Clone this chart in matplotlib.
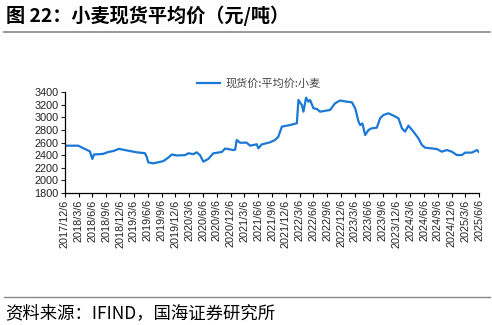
"""Wheat spot average price chart (figure 22), saved as out.png."""

import matplotlib.pyplot as plt
import numpy as np
from matplotlib.lines import Line2D

plt.rcParams["font.family"] = ["Noto Sans CJK SC", "DejaVu Sans"]

# Values (yuan/ton).
dates = [
    "2017-12-06", "2018-03-04", "2018-04-06", "2018-05-20", "2018-06-05",
    "2018-06-16", "2018-08-16", "2018-09-18", "2018-10-22", "2018-11-28",
    "2019-01-18", "2019-03-25", "2019-05-19", "2019-05-31", "2019-06-10",
    "2019-07-13", "2019-09-17", "2019-10-20", "2019-11-12", "2019-12-15",
    "2020-02-08", "2020-03-01", "2020-04-03", "2020-04-25", "2020-05-17",
    "2020-06-08", "2020-07-11", "2020-08-13", "2020-10-08", "2020-10-30",
    "2020-12-23", "2021-01-04", "2021-01-15", "2021-02-06", "2021-03-22",
    "2021-04-13", "2021-05-27", "2021-06-07", "2021-06-29", "2021-08-23",
    "2021-09-25", "2021-10-17", "2021-11-09", "2022-01-03", "2022-02-16",
    "2022-02-27", "2022-03-21", "2022-04-01", "2022-04-18", "2022-05-04",
    "2022-05-15", "2022-06-06", "2022-06-28", "2022-07-20", "2022-09-24",
    "2022-10-27", "2022-11-29", "2023-01-13", "2023-02-15", "2023-03-09",
    "2023-03-31", "2023-04-11", "2023-04-26", "2023-05-14", "2023-06-05",
    "2023-06-27", "2023-07-30", "2023-08-21", "2023-09-12", "2023-10-15",
    "2023-11-17", "2023-12-20", "2024-01-12", "2024-02-02", "2024-02-24",
    "2024-03-28", "2024-04-30", "2024-05-23", "2024-06-14", "2024-08-30",
    "2024-10-02", "2024-11-04", "2024-12-07", "2025-01-09", "2025-02-12",
    "2025-03-05", "2025-04-19", "2025-05-22", "2025-06-06",
]
prices = [
    2550, 2550, 2510, 2460, 2340, 2410, 2420, 2450, 2465, 2500,
    2475, 2445, 2430, 2370, 2285, 2270, 2305, 2360, 2410, 2395,
    2400, 2430, 2415, 2445, 2400, 2297, 2340, 2429, 2450, 2505,
    2481, 2485, 2640, 2597, 2597, 2550, 2572, 2508, 2570, 2603,
    2640, 2693, 2851, 2877, 2904, 3273, 3194, 3088, 3310, 3246,
    3273, 3142, 3131, 3088, 3115, 3221, 3265, 3246, 3237, 3142,
    2931, 2877, 2900, 2719, 2798, 2825, 2835, 2983, 3036, 3062,
    3025, 2983, 2825, 2772, 2867, 2772, 2666, 2560, 2518, 2497,
    2455, 2481, 2455, 2402, 2402, 2440, 2440, 2481, 2445,
]
series_name = "现货价:平均价:小麦"

# Quarterly tick dates, 2017/12/6 .. 2025/6/6
tick_dates = [f"{y}-{m:02d}-06" for y in range(2017, 2026) for m in (3, 6, 9, 12)]
tick_dates = [d for d in tick_dates if "2017-12-06" <= d <= "2025-06-06"]
tick_labels = [f"{d[:4]}/{int(d[5:7])}/6" for d in tick_dates]

BLUE = "#1b78d6"
TICK_FONT = "Liberation Sans"

fig = plt.figure(figsize=(4.92, 3.25), dpi=100)
ax = fig.add_axes([0.132, 0.406, 0.842, 0.311])

x = np.array(dates, dtype="datetime64[D]")
ax.plot(x, prices, color=BLUE, linewidth=1.6)

ax.set_ylim(1800, 3400)
ax.set_yticks(np.arange(1800, 3401, 200))
ax.set_xlim(np.datetime64("2017-12-06"), np.datetime64("2025-06-06"))
ax.set_xticks(np.array(tick_dates, dtype="datetime64[D]"))
ax.set_xticklabels(tick_labels, rotation=90, fontsize=7.8, family=TICK_FONT,
                   color="#222222")
for lbl in ax.get_yticklabels():
    lbl.set_family(TICK_FONT)
ax.tick_params(axis="y", labelsize=7.8, length=3, width=0.8, pad=1.5, colors="#222222")
ax.tick_params(axis="x", length=3, width=0.8, pad=1.5)
for side in ("top", "right"):
    ax.spines[side].set_visible(False)
for side in ("left", "bottom"):
    ax.spines[side].set_linewidth(0.9)

ax.legend(
    [Line2D([], [], color=BLUE, linewidth=1.6)], [series_name],
    loc="lower left", bbox_to_anchor=(0.308, 0.99), frameon=False,
    fontsize=8, handlelength=2.1, borderaxespad=0, handletextpad=0.45,
    labelcolor="#444444",
)

# Title and source, with the grey rules used in the report template
fig.text(0.012, 0.952, "图 22：小麦现货平均价（元/吨）", fontsize=13.8,
         fontweight="bold", va="center", ha="left")
fig.add_artist(Line2D([0.008, 0.995], [0.903, 0.903], color="#888888", linewidth=1.2))
fig.add_artist(Line2D([0.008, 0.995], [0.086, 0.086], color="#888888", linewidth=1.0))
fig.text(0.010, 0.038, "资料来源：IFIND，国海证券研究所", fontsize=12.5,
         va="center", ha="left")

fig.savefig("out.png", dpi=100)
